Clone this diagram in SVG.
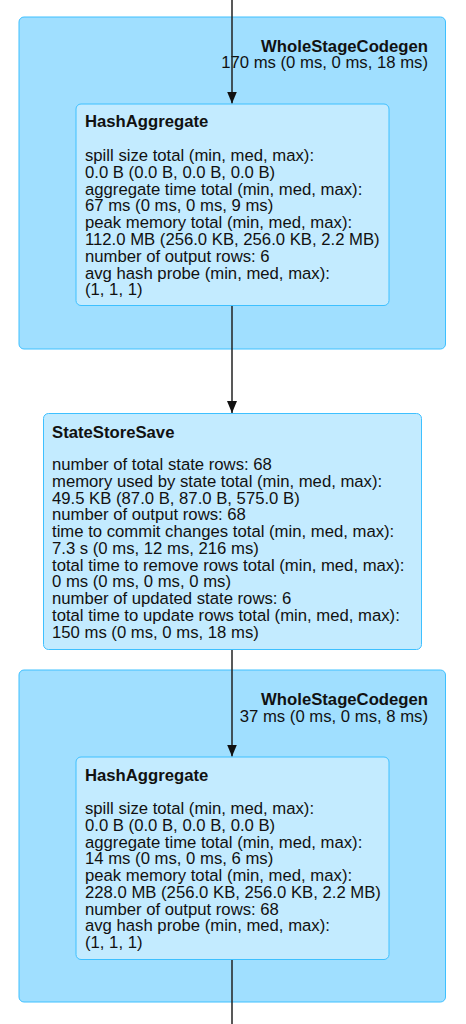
<svg xmlns="http://www.w3.org/2000/svg" width="466" height="1024" viewBox="0 0 466 1024">
<style>
.cluster{fill:#A0DFFF;stroke:#3EC0FF;stroke-width:1}
.node{fill:#C3EBFF;stroke:#3EC0FF;stroke-width:1}
text{font-family:"Liberation Sans",Arial,Helvetica,sans-serif;font-size:16.7px;fill:#111}
.b{font-weight:bold}
.edge{stroke:#222;stroke-width:1.5;fill:none}
</style>
<defs>
<marker id="arr" viewBox="0 0 12 10" refX="12" refY="5" markerWidth="12" markerHeight="10" markerUnits="userSpaceOnUse" orient="auto">
<path d="M0,0 L12,5 L0,10 z" fill="#111"/>
</marker>
</defs>
<g id="cluster1">
<rect class="cluster" x="19" y="17" width="426.5" height="332" rx="5"/>
<text class="b" x="428" y="51.5" text-anchor="end">WholeStageCodegen</text>
<text x="428" y="68.3" text-anchor="end">170 ms (0 ms, 0 ms, 18 ms)</text>
</g>
<g id="cluster2">
<rect class="cluster" x="19" y="670" width="426.5" height="332" rx="5"/>
<text class="b" x="428" y="705" text-anchor="end">WholeStageCodegen</text>
<text x="428" y="722" text-anchor="end">37 ms (0 ms, 0 ms, 8 ms)</text>
</g>
<g id="edges">
<line class="edge" x1="232" y1="0" x2="232" y2="103.5" marker-end="url(#arr)"/>
<line class="edge" x1="232" y1="305.5" x2="232" y2="413" marker-end="url(#arr)"/>
<line class="edge" x1="232" y1="649.5" x2="232" y2="756.5" marker-end="url(#arr)"/>
<line class="edge" x1="232" y1="959.5" x2="232" y2="1024"/>
</g>
<g id="hashAggregate1">
<rect class="node" x="76" y="104" width="313" height="201.5" rx="5"/>
<text class="b" x="85" y="127">HashAggregate</text>
<text x="85" y="161">spill size total (min, med, max):</text>
<text x="85" y="177.8">0.0 B (0.0 B, 0.0 B, 0.0 B)</text>
<text x="85" y="194.6">aggregate time total (min, med, max):</text>
<text x="85" y="211.4">67 ms (0 ms, 0 ms, 9 ms)</text>
<text x="85" y="228.2">peak memory total (min, med, max):</text>
<text x="85" y="245">112.0 MB (256.0 KB, 256.0 KB, 2.2 MB)</text>
<text x="85" y="261.8">number of output rows: 6</text>
<text x="85" y="278.6">avg hash probe (min, med, max):</text>
<text x="85" y="295.4">(1, 1, 1)</text>
</g>
<g id="stateStoreSave">
<rect class="node" x="43.5" y="413.5" width="378" height="236" rx="5"/>
<text class="b" x="52" y="437.5">StateStoreSave</text>
<text x="52" y="470">number of total state rows: 68</text>
<text x="52" y="486.75">memory used by state total (min, med, max):</text>
<text x="52" y="503.5">49.5 KB (87.0 B, 87.0 B, 575.0 B)</text>
<text x="52" y="520.25">number of output rows: 68</text>
<text x="52" y="537">time to commit changes total (min, med, max):</text>
<text x="52" y="553.75">7.3 s (0 ms, 12 ms, 216 ms)</text>
<text x="52" y="570.5">total time to remove rows total (min, med, max):</text>
<text x="52" y="587.25">0 ms (0 ms, 0 ms, 0 ms)</text>
<text x="52" y="604">number of updated state rows: 6</text>
<text x="52" y="620.75">total time to update rows total (min, med, max):</text>
<text x="52" y="637.5">150 ms (0 ms, 0 ms, 18 ms)</text>
</g>
<g id="hashAggregate2">
<rect class="node" x="76" y="757" width="313" height="202.5" rx="5"/>
<text class="b" x="85" y="780.5">HashAggregate</text>
<text x="85" y="814">spill size total (min, med, max):</text>
<text x="85" y="830.75">0.0 B (0.0 B, 0.0 B, 0.0 B)</text>
<text x="85" y="847.5">aggregate time total (min, med, max):</text>
<text x="85" y="864.25">14 ms (0 ms, 0 ms, 6 ms)</text>
<text x="85" y="881">peak memory total (min, med, max):</text>
<text x="85" y="897.75">228.0 MB (256.0 KB, 256.0 KB, 2.2 MB)</text>
<text x="85" y="914.5">number of output rows: 68</text>
<text x="85" y="931.25">avg hash probe (min, med, max):</text>
<text x="85" y="948">(1, 1, 1)</text>
</g>
</svg>
